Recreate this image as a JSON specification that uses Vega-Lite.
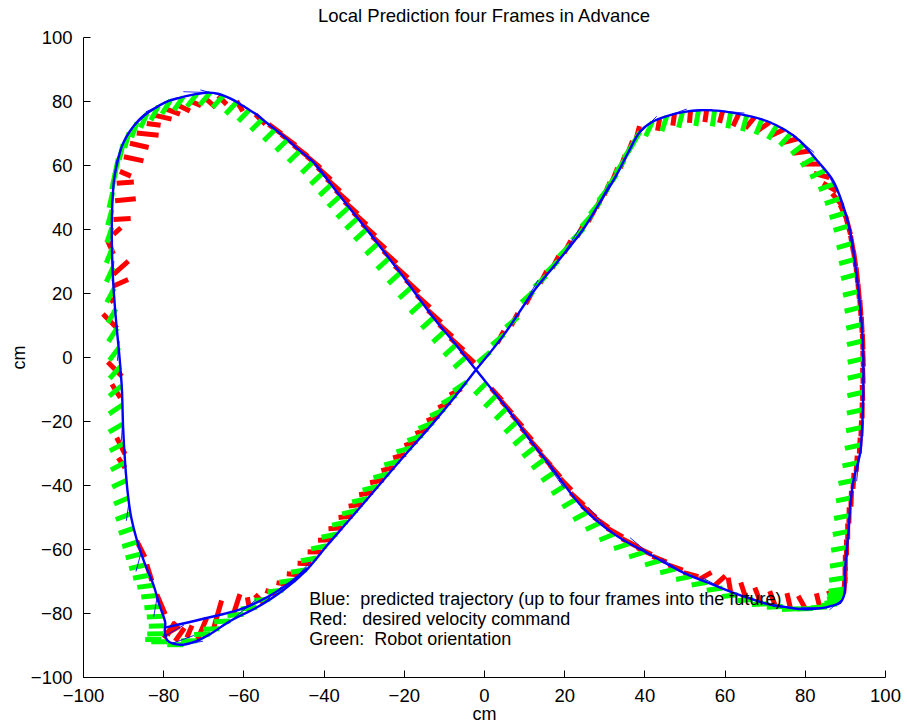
{
  "$schema": "https://vega.github.io/schema/vega-lite/v6.json",
  "width": 802,
  "height": 640,
  "autosize": {"type": "none"},
  "padding": {"left": 83, "top": 37, "right": 22, "bottom": 47},
  "background": "white",
  "config": {"view": {"stroke": null}, "font": "Liberation Sans"},
  "title": {"text": "Local Prediction four Frames in Advance", "fontSize": 18.5, "font": "Liberation Sans", "fontWeight": "normal", "color": "black", "offset": 3},
  "datasets": {
    "path": [
      {"run":"main","i":1,"x":-2,"y":-4},{"run":"main","i":2,"x":5,"y":7},{"run":"main","i":3,"x":12.3,"y":20.4},{"run":"main","i":4,"x":18.5,"y":30},{"run":"main","i":5,"x":24.8,"y":40},{"run":"main","i":6,"x":29,"y":48.5},{"run":"main","i":7,"x":33.1,"y":57},{"run":"main","i":8,"x":36,"y":64},{"run":"main","i":9,"x":38.9,"y":70.4},{"run":"main","i":10,"x":42,"y":73.5},
      {"run":"main","i":11,"x":45.6,"y":75.3},{"run":"main","i":12,"x":50,"y":76.6},{"run":"main","i":13,"x":53.9,"y":77.1},{"run":"main","i":14,"x":58,"y":77},{"run":"main","i":15,"x":62.2,"y":76.3},{"run":"main","i":16,"x":66.5,"y":75.2},{"run":"main","i":17,"x":70.5,"y":73.75},{"run":"main","i":18,"x":75,"y":71},{"run":"main","i":19,"x":78.8,"y":67.5},{"run":"main","i":20,"x":83,"y":61.5},
      {"run":"main","i":21,"x":87.1,"y":55},{"run":"main","i":22,"x":89.5,"y":47.5},{"run":"main","i":23,"x":91.3,"y":39.4},{"run":"main","i":24,"x":92.9,"y":25.8},{"run":"main","i":25,"x":94.2,"y":10.2},{"run":"main","i":26,"x":94.6,"y":-1},{"run":"main","i":27,"x":94.6,"y":-9.6},{"run":"main","i":28,"x":94.3,"y":-22},{"run":"main","i":29,"x":93.8,"y":-30},{"run":"main","i":30,"x":92.1,"y":-38.75},
      {"run":"main","i":31,"x":91.3,"y":-47},{"run":"main","i":32,"x":90.9,"y":-54.4},{"run":"main","i":33,"x":90.3,"y":-62},{"run":"main","i":34,"x":90,"y":-68},{"run":"main","i":35,"x":89.9,"y":-74},{"run":"main","i":36,"x":88.8,"y":-76.8},{"run":"main","i":37,"x":86.5,"y":-77.8},{"run":"main","i":38,"x":84.6,"y":-78.4},{"run":"main","i":39,"x":79.6,"y":-78.8},{"run":"main","i":40,"x":75,"y":-78.1},
      {"run":"main","i":41,"x":70.5,"y":-77.1},{"run":"main","i":42,"x":64,"y":-74.5},{"run":"main","i":43,"x":58,"y":-71.6},{"run":"main","i":44,"x":49.7,"y":-67.4},{"run":"main","i":45,"x":41.4,"y":-61.7},{"run":"main","i":46,"x":33.1,"y":-55.9},{"run":"main","i":47,"x":24.8,"y":-47.3},{"run":"main","i":48,"x":16.5,"y":-34},{"run":"main","i":49,"x":12.3,"y":-27.3},{"run":"main","i":50,"x":6,"y":-16.5},
      {"run":"main","i":51,"x":-2,"y":-4},{"run":"main","i":52,"x":-7,"y":3.8},{"run":"main","i":53,"x":-12.6,"y":12.3},{"run":"main","i":54,"x":-20.9,"y":26.3},{"run":"main","i":55,"x":-29.3,"y":39.9},{"run":"main","i":56,"x":-35.9,"y":50.3},{"run":"main","i":57,"x":-42.6,"y":61},{"run":"main","i":58,"x":-45.9,"y":64.4},{"run":"main","i":59,"x":-50,"y":69},{"run":"main","i":60,"x":-54.2,"y":73.2},
      {"run":"main","i":61,"x":-57,"y":76},{"run":"main","i":62,"x":-60,"y":78.4},{"run":"main","i":63,"x":-63.3,"y":80.8},{"run":"main","i":64,"x":-66.7,"y":82.4},{"run":"main","i":65,"x":-69.5,"y":82.6},{"run":"main","i":66,"x":-72.5,"y":82},{"run":"main","i":67,"x":-76,"y":81},{"run":"main","i":68,"x":-79.1,"y":79.8},{"run":"main","i":69,"x":-82,"y":77.8},{"run":"main","i":70,"x":-85,"y":75.3},
      {"run":"main","i":71,"x":-87.3,"y":72.3},{"run":"main","i":72,"x":-89.1,"y":69},{"run":"main","i":73,"x":-90.4,"y":65.5},{"run":"main","i":74,"x":-91.4,"y":61},{"run":"main","i":75,"x":-92.2,"y":56},{"run":"main","i":76,"x":-92.6,"y":50},{"run":"main","i":77,"x":-92.8,"y":43},{"run":"main","i":78,"x":-92.8,"y":35.7},{"run":"main","i":79,"x":-92.5,"y":24},{"run":"main","i":80,"x":-91.8,"y":12},
      {"run":"main","i":81,"x":-90.9,"y":0},{"run":"main","i":82,"x":-90.3,"y":-10},{"run":"main","i":83,"x":-90,"y":-22},{"run":"main","i":84,"x":-89.5,"y":-33},{"run":"main","i":85,"x":-88.8,"y":-43},{"run":"main","i":86,"x":-88,"y":-50},{"run":"main","i":87,"x":-86.5,"y":-57.5},{"run":"main","i":88,"x":-84.6,"y":-64.5},{"run":"main","i":89,"x":-82.5,"y":-71},{"run":"main","i":90,"x":-80.8,"y":-78},
      {"run":"main","i":91,"x":-79.5,"y":-83},{"run":"main","i":92,"x":-79.6,"y":-86},{"run":"main","i":93,"x":-79,"y":-88.5},{"run":"main","i":94,"x":-77.5,"y":-89.6},{"run":"main","i":95,"x":-75,"y":-89.9},{"run":"main","i":96,"x":-71.6,"y":-88.7},{"run":"main","i":97,"x":-68.3,"y":-86.6},{"run":"main","i":98,"x":-63.3,"y":-82.5},{"run":"main","i":99,"x":-56.7,"y":-78.3},{"run":"main","i":100,"x":-50,"y":-72.8},
      {"run":"main","i":101,"x":-44.2,"y":-66.5},{"run":"main","i":102,"x":-39.2,"y":-59},{"run":"main","i":103,"x":-34,"y":-51.5},{"run":"main","i":104,"x":-29,"y":-44.2},{"run":"main","i":105,"x":-21,"y":-32.5},{"run":"main","i":106,"x":-12.6,"y":-20.5},{"run":"main","i":107,"x":-7,"y":-12},{"run":"main","i":108,"x":-2,"y":-4},
      {"run":"b","i":1,"x":-79.3,"y":-84.5},{"run":"b","i":2,"x":-70,"y":-81.8},{"run":"b","i":3,"x":-60.8,"y":-78.9},{"run":"b","i":4,"x":-54,"y":-75},{"run":"b","i":5,"x":-48.4,"y":-70.5},{"run":"b","i":6,"x":-44,"y":-66}
    ],
    "green": [
      {"x":1.5,"y":1.5,"a":140},{"x":5,"y":7,"a":140},{"x":8.5,"y":12.5,"a":140},{"x":12.3,"y":20.4,"a":138},{"x":15.5,"y":25.3,"a":138},{"x":18.5,"y":30,"a":136},{"x":21.5,"y":35,"a":135},{"x":24.8,"y":40,"a":135},{"x":27,"y":44.5,"a":132},{"x":29,"y":48.5,"a":130},{"x":31,"y":52.8,"a":128},{"x":33.1,"y":57,"a":126},{"x":35,"y":61.5,"a":124},{"x":37,"y":66.3,"a":122},{"x":38.9,"y":70.4,"a":120},
      {"x":42,"y":73.5,"a":115},{"x":45.6,"y":75.3,"a":108},{"x":49.5,"y":76.5,"a":104},{"x":53.5,"y":77.1,"a":100},{"x":57.5,"y":77,"a":98},{"x":61.5,"y":76.4,"a":100},{"x":65.5,"y":75.4,"a":105},{"x":69.3,"y":74.2,"a":112},{"x":73,"y":72.3,"a":122},{"x":76.5,"y":69.8,"a":132},{"x":79.8,"y":66.5,"a":142},{"x":82.5,"y":62.3,"a":150},{"x":85,"y":58.2,"a":156},{"x":87.2,"y":54,"a":160},{"x":88.8,"y":49.5,"a":162},{"x":90,"y":45,"a":163},{"x":91,"y":41,"a":163},{"x":91.8,"y":35.5,"a":164},{"x":92.4,"y":30.5,"a":165},{"x":92.9,"y":25.8,"a":165},{"x":93.4,"y":20.5,"a":166},{"x":93.8,"y":15.5,"a":166},{"x":94.2,"y":10.2,"a":166},{"x":94.4,"y":5,"a":167},{"x":94.6,"y":-0.5,"a":167},{"x":94.6,"y":-5.5,"a":167},{"x":94.5,"y":-11,"a":167},{"x":94.4,"y":-16.5,"a":168},{"x":94.2,"y":-22,"a":168},{"x":93.9,"y":-27.5,"a":168},{"x":93.3,"y":-33,"a":168},{"x":92.3,"y":-38.5,"a":168},{"x":91.7,"y":-44,"a":169},{"x":91.2,"y":-49.5,"a":169},{"x":90.9,"y":-54.5,"a":169},{"x":90.5,"y":-59.5,"a":170},{"x":90.2,"y":-64.5,"a":170},{"x":90,"y":-69,"a":171},{"x":89.9,"y":-72.5,"a":172},{"x":89.7,"y":-73.8,"a":172},{"x":89.5,"y":-75,"a":173},{"x":88.9,"y":-76.4,"a":174},{"x":88,"y":-77.2,"a":175},
      {"x":85.5,"y":-78.1,"a":177},{"x":82,"y":-78.6,"a":178},{"x":78.3,"y":-78.7,"a":178},{"x":74.5,"y":-78,"a":178},{"x":70.8,"y":-77.1,"a":177},{"x":67,"y":-75.8,"a":176},{"x":63.3,"y":-74.3,"a":174},{"x":59.5,"y":-72.2,"a":172},{"x":55.7,"y":-70.4,"a":170},{"x":51.8,"y":-68.5,"a":168},{"x":47.8,"y":-66.2,"a":166},{"x":44,"y":-63.6,"a":164},{"x":40,"y":-61,"a":163},{"x":36.2,"y":-58.3,"a":162},{"x":32.5,"y":-55.3,"a":158},{"x":29,"y":-51.8,"a":155},{"x":25.8,"y":-48.5,"a":152},{"x":23,"y":-44.4,"a":150},{"x":20.3,"y":-40.1,"a":148},{"x":17.7,"y":-35.9,"a":146},{"x":15.2,"y":-31.9,"a":144},{"x":12.8,"y":-28.1,"a":142},{"x":10.5,"y":-24.2,"a":140},{"x":8.2,"y":-20.3,"a":138},{"x":5.7,"y":-16,"a":136},{"x":3,"y":-12.1,"a":135},{"x":0.5,"y":-8.2,"a":135},
      {"x":-4.5,"y":0,"a":138},{"x":-7,"y":3.8,"a":138},{"x":-9.8,"y":8,"a":138},{"x":-12.6,"y":12.3,"a":138},{"x":-15.4,"y":17,"a":138},{"x":-18.2,"y":21.7,"a":138},{"x":-20.9,"y":26.3,"a":138},{"x":-23.7,"y":30.8,"a":138},{"x":-26.5,"y":35.4,"a":138},{"x":-29.3,"y":39.9,"a":138},{"x":-31.5,"y":43.4,"a":138},{"x":-33.7,"y":46.8,"a":138},{"x":-35.9,"y":50.3,"a":138},{"x":-38.1,"y":53.9,"a":137},{"x":-40.3,"y":57.4,"a":137},{"x":-42.6,"y":61,"a":136},{"x":-45.9,"y":64.4,"a":136},{"x":-49,"y":67.9,"a":136},{"x":-52.1,"y":71.1,"a":135},{"x":-55.3,"y":74.3,"a":135},{"x":-58.5,"y":77.3,"a":134},{"x":-61.7,"y":79.6,"a":133},{"x":-65,"y":81.7,"a":132},{"x":-68.3,"y":82.6,"a":130},{"x":-71.6,"y":82.2,"a":128},{"x":-75,"y":81.3,"a":125},{"x":-78.2,"y":80.2,"a":122},{"x":-81.2,"y":78.4,"a":118},{"x":-84,"y":76.2,"a":114},{"x":-86.5,"y":73.3,"a":110},{"x":-88.5,"y":70.2,"a":106},{"x":-90,"y":66.5,"a":104},{"x":-91.2,"y":62,"a":102},{"x":-92,"y":57.3,"a":102},{"x":-92.6,"y":51.5,"a":103},{"x":-92.8,"y":46,"a":105},{"x":-92.8,"y":40.5,"a":108},{"x":-92.7,"y":34,"a":112},{"x":-92.5,"y":28,"a":115},{"x":-92.2,"y":21.5,"a":118},{"x":-91.8,"y":15,"a":120},{"x":-91.5,"y":9,"a":123},{"x":-91,"y":3,"a":127},{"x":-90.7,"y":-3,"a":132},{"x":-90.4,"y":-9,"a":140},{"x":-90.2,"y":-15,"a":146},{"x":-90.1,"y":-21,"a":150},{"x":-89.8,"y":-27,"a":152},{"x":-89.5,"y":-33,"a":153},{"x":-89.1,"y":-38.5,"a":155},{"x":-88.6,"y":-44,"a":157},{"x":-88.1,"y":-49,"a":159},{"x":-87.3,"y":-53.5,"a":161},{"x":-86.4,"y":-57.8,"a":163},{"x":-85.5,"y":-61.5,"a":165},{"x":-84.6,"y":-65,"a":167},{"x":-83.6,"y":-68.2,"a":169},{"x":-82.5,"y":-71.3,"a":172},{"x":-81.5,"y":-74.5,"a":174},{"x":-80.7,"y":-78,"a":176},{"x":-80.1,"y":-81,"a":177},{"x":-79.6,"y":-84,"a":178},{"x":-80,"y":-86.5,"a":179},{"x":-80.5,"y":-88.3,"a":180},{"x":-79,"y":-89,"a":180},
      {"x":-4.3,"y":-7.8,"a":146},{"x":-7,"y":-12,"a":150},{"x":-9.8,"y":-16.3,"a":155},{"x":-12.6,"y":-20.5,"a":158},{"x":-15.3,"y":-24.5,"a":161},{"x":-18,"y":-28.3,"a":164},{"x":-21,"y":-32.5,"a":166},{"x":-23.7,"y":-36.5,"a":166},{"x":-26.4,"y":-40.4,"a":166},{"x":-29,"y":-44.2,"a":167},{"x":-31.5,"y":-47.9,"a":167},{"x":-34,"y":-51.5,"a":168},{"x":-36.6,"y":-55.3,"a":168},{"x":-39.2,"y":-59,"a":169},{"x":-41.7,"y":-62.8,"a":170},{"x":-44.2,"y":-66.5,"a":171},{"x":-47.1,"y":-69.7,"a":172},{"x":-50,"y":-72.8,"a":173},{"x":-53.3,"y":-75.6,"a":174},{"x":-56.7,"y":-78.3,"a":175},{"x":-60,"y":-80.4,"a":176},{"x":-63.3,"y":-82.5,"a":177},{"x":-66,"y":-84.9,"a":178},{"x":-68.3,"y":-86.6,"a":179},{"x":-71.6,"y":-88.7,"a":180},{"x":-75,"y":-89.9,"a":180}
    ],
    "red": [
      {"x":3.3,"y":4.3,"a":298,"v":3.5},{"x":6.8,"y":9.8,"a":298,"v":3.5},{"x":10.4,"y":16.5,"a":298,"v":3.5},{"x":14,"y":23,"a":298,"v":3.5},{"x":17,"y":27.7,"a":298,"v":3.5},{"x":20,"y":32.5,"a":298,"v":3.5},{"x":23.2,"y":37.5,"a":298,"v":3.5},{"x":26,"y":42.3,"a":298,"v":3.5},{"x":28,"y":46.5,"a":296,"v":3.5},{"x":30,"y":50.6,"a":294,"v":3.5},{"x":32,"y":55,"a":292,"v":3.5},{"x":34,"y":59,"a":290,"v":3.5},{"x":36,"y":64,"a":290,"v":3},{"x":38,"y":68.5,"a":285,"v":3},
      {"x":43.8,"y":74.4,"a":100,"v":3},{"x":47.5,"y":76,"a":98,"v":3},{"x":51.5,"y":76.9,"a":95,"v":3},{"x":55.5,"y":77.1,"a":98,"v":3},{"x":59.5,"y":76.8,"a":105,"v":3},{"x":63.5,"y":75.9,"a":115,"v":3.3},{"x":67.4,"y":74.8,"a":130,"v":3.5},{"x":71.2,"y":73.3,"a":145,"v":3.7},{"x":74.8,"y":71.1,"a":155,"v":3.8},{"x":78.2,"y":68.2,"a":165,"v":4},{"x":81.2,"y":64.4,"a":172,"v":4.2},{"x":83.8,"y":60.3,"a":180,"v":4.5},{"x":86.1,"y":56.1,"a":195,"v":4},{"x":88,"y":51.8,"a":210,"v":4},{"x":89.4,"y":47.2,"a":230,"v":4},{"x":90.5,"y":43,"a":245,"v":4},{"x":91.4,"y":38.3,"a":255,"v":4},{"x":92.1,"y":33,"a":260,"v":4},{"x":92.7,"y":28.2,"a":262,"v":4},{"x":93.2,"y":23.1,"a":264,"v":4},{"x":93.6,"y":18,"a":265,"v":4},{"x":94,"y":12.9,"a":266,"v":4},{"x":94.3,"y":7.6,"a":267,"v":4},{"x":94.5,"y":2.3,"a":268,"v":4},{"x":94.6,"y":-3,"a":268,"v":4},{"x":94.55,"y":-8.3,"a":268,"v":4},{"x":94.45,"y":-13.7,"a":268,"v":4},{"x":94.3,"y":-19.2,"a":270,"v":4},{"x":94,"y":-24.8,"a":272,"v":4},{"x":93.6,"y":-30.2,"a":273,"v":4},{"x":92.8,"y":-35.8,"a":274,"v":4},{"x":92,"y":-41.2,"a":274,"v":4},{"x":91.5,"y":-46.8,"a":272,"v":4},{"x":91,"y":-52,"a":271,"v":4},{"x":90.7,"y":-57,"a":270,"v":4},{"x":90.4,"y":-62,"a":270,"v":4},{"x":90.1,"y":-66.8,"a":270,"v":4},{"x":90,"y":-70.7,"a":271,"v":4},{"x":89.7,"y":-73.8,"a":275,"v":4},
      {"x":87.2,"y":-77.5,"a":250,"v":3.8},{"x":83.8,"y":-78.5,"a":256,"v":3.8},{"x":80.2,"y":-78.8,"a":241,"v":3.8},{"x":76.4,"y":-78.4,"a":257,"v":3.8},{"x":72.6,"y":-77.6,"a":249,"v":3.8},{"x":68.9,"y":-76.5,"a":249,"v":3.8},{"x":65.2,"y":-75,"a":252,"v":3.8},{"x":61.5,"y":-73.3,"a":260,"v":3.5},{"x":57.6,"y":-71.3,"a":318,"v":3.5},{"x":53.7,"y":-69.5,"a":330,"v":3.5},{"x":49.8,"y":-67.4,"a":15,"v":3.8},{"x":46,"y":-65,"a":20,"v":3.8},{"x":42,"y":-62.3,"a":22,"v":3.8},{"x":38.2,"y":-59.6,"a":25,"v":4},{"x":34.4,"y":-56.8,"a":27,"v":4.5},{"x":30.7,"y":-53.5,"a":29,"v":4.5},{"x":27.4,"y":-50.1,"a":35,"v":4.5},{"x":24.4,"y":-46.5,"a":39,"v":4.5},{"x":21.6,"y":-42.5,"a":42,"v":4.5},{"x":19,"y":-38,"a":45,"v":4},{"x":16.4,"y":-33.8,"a":48,"v":4},{"x":14,"y":-30.2,"a":48,"v":4},{"x":11.6,"y":-26.2,"a":48,"v":4},{"x":9.3,"y":-22.2,"a":48,"v":4},{"x":6.9,"y":-18,"a":48,"v":4},{"x":4.3,"y":-13.8,"a":48,"v":4},{"x":1.8,"y":-9.8,"a":48,"v":4},
      {"x":-5.7,"y":1.9,"a":42,"v":4.5},{"x":-8.4,"y":5.9,"a":42,"v":4.5},{"x":-11.2,"y":10.1,"a":42,"v":4.5},{"x":-14,"y":14.6,"a":42,"v":4.5},{"x":-16.8,"y":19.3,"a":42,"v":4.5},{"x":-19.5,"y":24,"a":42,"v":4.5},{"x":-22.3,"y":28.5,"a":42,"v":4.5},{"x":-25.1,"y":33.1,"a":42,"v":4.5},{"x":-27.9,"y":37.6,"a":42,"v":4.5},{"x":-30.4,"y":41.6,"a":42,"v":4.5},{"x":-32.6,"y":45.1,"a":42,"v":4.5},{"x":-34.8,"y":48.5,"a":42,"v":4.5},{"x":-37,"y":52.1,"a":42,"v":4.5},{"x":-39.2,"y":55.6,"a":42,"v":4.5},{"x":-41.5,"y":59.2,"a":42,"v":4.5},{"x":-44.2,"y":62.7,"a":40,"v":4.5},{"x":-47.5,"y":66.2,"a":38,"v":4.5},{"x":-50.6,"y":69.5,"a":36,"v":4.5},{"x":-53.7,"y":72.7,"a":36,"v":4},{"x":-57,"y":75.8,"a":45,"v":3.5},
      {"x":-61.7,"y":80,"a":59,"v":3},{"x":-66.3,"y":81.6,"a":45,"v":3},{"x":-69.2,"y":80.5,"a":41,"v":3},{"x":-73.3,"y":80,"a":23,"v":3},{"x":-76.2,"y":78.6,"a":26,"v":3.2},{"x":-79.1,"y":77.4,"a":20,"v":3.5},{"x":-82,"y":75.5,"a":13,"v":4.2},{"x":-84.1,"y":73,"a":8,"v":3.5},{"x":-86.6,"y":70,"a":6,"v":5.5},{"x":-88.3,"y":66.8,"a":13,"v":4.8},{"x":-89.8,"y":62.6,"a":12,"v":5},{"x":-90.8,"y":58,"a":23,"v":3},{"x":-91.6,"y":54.3,"a":356,"v":4.3},{"x":-92,"y":48.8,"a":354,"v":5.2},{"x":-92.4,"y":43,"a":357,"v":4.3},
      {"x":-92.4,"y":38.3,"a":318,"v":2.5},{"x":-92.4,"y":32.2,"a":246,"v":4},{"x":-92.4,"y":25.8,"a":318,"v":5},{"x":-92.4,"y":22.2,"a":336,"v":4},{"x":-92.4,"y":17,"a":233,"v":2},{"x":-91.5,"y":9,"a":225,"v":5},{"x":-90.3,"y":-6,"a":225,"v":5},
      {"x":-92.8,"y":-8.5,"a":58,"v":4},{"x":-91.6,"y":-25.2,"a":63,"v":4.6},{"x":-91.2,"y":-31.5,"a":56,"v":3},{"x":-86.6,"y":-57.5,"a":63,"v":4.5},{"x":-84.1,"y":-64.8,"a":73,"v":4.3},{"x":-81.6,"y":-74.2,"a":67,"v":5.4},
      {"x":-71.6,"y":-88.75,"a":293,"v":6.2},{"x":-67.5,"y":-85.1,"a":286,"v":7.5},{"x":-62.5,"y":-80.4,"a":288,"v":5.3},{"x":-74.1,"y":-87.7,"a":293,"v":3.3},{"x":-80,"y":-87.7,"a":310,"v":5},{"x":-79,"y":-87,"a":300,"v":3.8},{"x":-78.5,"y":-86,"a":330,"v":3},{"x":-77,"y":-88.8,"a":305,"v":4},
      {"x":-5.6,"y":-9.9,"a":152,"v":3.3},{"x":-8.4,"y":-14.1,"a":155,"v":3.3},{"x":-11.2,"y":-18.4,"a":158,"v":3.3},{"x":-14,"y":-22.5,"a":160,"v":3.3},{"x":-16.7,"y":-26.4,"a":162,"v":3.3},{"x":-19.5,"y":-30.4,"a":164,"v":3.3},{"x":-22.4,"y":-34.5,"a":166,"v":3.3},{"x":-25,"y":-38.4,"a":168,"v":3.5},{"x":-27.7,"y":-42.3,"a":170,"v":3.5},{"x":-30.3,"y":-46,"a":172,"v":3.5},{"x":-32.8,"y":-49.7,"a":174,"v":3.5},{"x":-35.3,"y":-53.4,"a":176,"v":3.5},{"x":-37.9,"y":-57.1,"a":178,"v":3.5},{"x":-40.5,"y":-60.9,"a":180,"v":3.5},{"x":-43,"y":-64.6,"a":182,"v":3.5},{"x":-45.7,"y":-68.1,"a":185,"v":3.5},{"x":-48.6,"y":-71.2,"a":190,"v":3.2},{"x":-51.7,"y":-74.2,"a":200,"v":3},{"x":-55,"y":-76.9,"a":225,"v":3},{"x":-58.4,"y":-79.4,"a":260,"v":3.5}
    ],
    "pred": [
      {"x":-60,"y":78.4,"a":208,"v":7},{"x":-64,"y":81.2,"a":195,"v":7},{"x":-68,"y":82.6,"a":182,"v":7},{"x":-73,"y":81.9,"a":165,"v":7},{"x":-78,"y":80.3,"a":155,"v":7},{"x":-83,"y":77,"a":138,"v":7},{"x":-87,"y":72.8,"a":122,"v":6.5},{"x":-89.8,"y":67.5,"a":110,"v":6},{"x":-91.4,"y":61,"a":100,"v":5.5},{"x":-92.5,"y":52,"a":94,"v":5},
      {"x":38.5,"y":69.5,"a":315,"v":6.5},{"x":44,"y":74.5,"a":340,"v":7},{"x":50,"y":76.6,"a":355,"v":7},{"x":58,"y":77,"a":5,"v":7},{"x":65,"y":75.6,"a":15,"v":7},{"x":71.5,"y":73.2,"a":28,"v":7},{"x":77,"y":69.5,"a":40,"v":7},{"x":81.5,"y":64,"a":52,"v":7},{"x":85.5,"y":57.8,"a":62,"v":7},{"x":88.5,"y":50.5,"a":72,"v":7},{"x":90.8,"y":41.5,"a":80,"v":6.5},{"x":93,"y":25,"a":85,"v":6},{"x":94.5,"y":-2,"a":90,"v":5.5},{"x":93.5,"y":-32,"a":96,"v":5.5},{"x":90.8,"y":-55,"a":92,"v":6},{"x":90,"y":-68,"a":92,"v":5},{"x":89.2,"y":-75.8,"a":140,"v":4},{"x":85,"y":-78.3,"a":180,"v":6},{"x":78,"y":-78.6,"a":185,"v":6},{"x":70.5,"y":-77.1,"a":200,"v":6},{"x":60,"y":-72.7,"a":208,"v":6.5},{"x":49.7,"y":-67.4,"a":213,"v":6.5},{"x":41.4,"y":-61.7,"a":220,"v":6.5},{"x":30,"y":-52.5,"a":228,"v":6},{"x":20,"y":-41,"a":235,"v":6},
      {"x":10,"y":16.5,"a":300,"v":7},{"x":20,"y":32.5,"a":302,"v":7},{"x":28,"y":46.5,"a":298,"v":7},
      {"x":-10,"y":8,"a":232,"v":6},{"x":-25,"y":33,"a":235,"v":6},{"x":-38,"y":53.5,"a":230,"v":6},
      {"x":-92.3,"y":30,"a":95,"v":5},{"x":-91,"y":5,"a":95,"v":5},{"x":-90.1,"y":-20,"a":94,"v":5},{"x":-88.5,"y":-45,"a":98,"v":5},{"x":-85.5,"y":-61,"a":105,"v":5},{"x":-81.5,"y":-75,"a":100,"v":5},
      {"x":-80,"y":-87.5,"a":330,"v":6},{"x":-78,"y":-89.6,"a":340,"v":6},{"x":-75,"y":-89.9,"a":350,"v":5},{"x":-70,"y":-87.7,"a":330,"v":8},{"x":-63,"y":-82.3,"a":320,"v":8},{"x":-56,"y":-78,"a":318,"v":7.5},{"x":-48,"y":-70.5,"a":312,"v":7}
    ],
    "notes": [
      {"x":-43.6,"y":-77.5,"t":"Blue:\u00a0 predicted trajectory (up to four frames into the future)"},
      {"x":-43.6,"y":-83.75,"t":"Red:\u00a0\u00a0 desired velocity command"},
      {"x":-43.6,"y":-90,"t":"Green:\u00a0 Robot orientation"}
    ]
  },
  "encoding": {
    "x": {"field":"x","type":"quantitative","scale":{"domain":[-100,100],"nice":false,"zero":false},
      "axis":{"values":[-100,-80,-60,-40,-20,0,20,40,60,80,100],"format":"d","title":"cm","grid":false,"domainColor":"black","tickColor":"black","tickSize":-7,"labelPadding":16,"labelFlush":false,"labelOverlap":false,"labelFont":"Liberation Sans","labelFontSize":18.5,"labelColor":"black","titleFont":"Liberation Sans","titleFontSize":18,"titleFontWeight":"normal","titleColor":"black","titleY":42,"titleBaseline":"alphabetic"}},
    "y": {"field":"y","type":"quantitative","scale":{"domain":[-100,100],"nice":false,"zero":false},
      "axis":{"values":[-100,-80,-60,-40,-20,0,20,40,60,80,100],"format":"d","title":"cm","grid":false,"domainColor":"black","tickColor":"black","tickSize":-7,"labelPadding":18,"labelFlush":false,"labelOverlap":false,"labelFont":"Liberation Sans","labelFontSize":18.5,"labelColor":"black","titleFont":"Liberation Sans","titleFontSize":18,"titleFontWeight":"normal","titleColor":"black","titleX":-59,"titleY":320,"titleBaseline":"alphabetic","titleAlign":"center"}}
  },
  "layer": [
    {"data":{"name":"red"},"mark":{"type":"point","shape":"M0,0L1,0","filled":false,"color":"#ff0000","strokeWidth":5,"opacity":1,"strokeCap":"butt"},
     "encoding":{"angle":{"field":"a","type":"quantitative","scale":null},"size":{"field":"v","type":"quantitative","scale":{"type":"pow","exponent":2,"domain":[0,10],"range":[0,6400]},"legend":null}}},
    {"data":{"name":"green"},"mark":{"type":"point","shape":"M0,0L1,0","filled":false,"color":"#00ff00","strokeWidth":5,"size":1024,"opacity":1,"strokeCap":"butt"},
     "encoding":{"angle":{"field":"a","type":"quantitative","scale":null}}},
    {"data":{"name":"pred"},"mark":{"type":"point","shape":"M0,0L1,0","filled":false,"color":"#0000ff","strokeWidth":0.8,"opacity":1},
     "encoding":{"angle":{"field":"a","type":"quantitative","scale":null},"size":{"field":"v","type":"quantitative","scale":{"type":"pow","exponent":2,"domain":[0,10],"range":[0,6400]},"legend":null}}},
    {"data":{"name":"path"},"mark":{"type":"line","color":"#0000ff","strokeWidth":2.4,"interpolate":"catmull-rom"},
     "encoding":{"order":{"field":"i","type":"quantitative"},"detail":{"field":"run","type":"nominal"}}},
    {"data":{"name":"notes"},"mark":{"type":"text","align":"left","baseline":"alphabetic","font":"Liberation Sans","fontSize":18,"color":"black"},
     "encoding":{"text":{"field":"t","type":"nominal"}}}
  ]
}
